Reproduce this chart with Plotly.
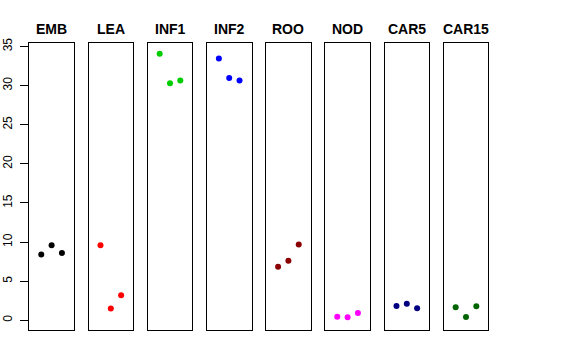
import plotly.graph_objects as go

categories = ["EMB", "LEA", "INF1", "INF2", "ROO", "NOD", "CAR5", "CAR15"]
emb = [8.4, 9.6, 8.6]
lea = [9.6, 1.5, 3.2]
inf1 = [34.05, 30.3, 30.65]
inf2 = [33.45, 30.95, 30.65]
roo = [6.85, 7.6, 9.7]
nod = [0.46, 0.38, 0.93]
car5 = [1.83, 2.12, 1.53]
car15 = [1.66, 0.42, 1.79]
series = [emb, lea, inf1, inf2, roo, nod, car5, car15]
colors = ["#000000", "#FF0000", "#00CD00", "#0000FF", "#8B0000", "#FF00FF", "#000080", "#006400"]
replicate = [1, 2, 3]
yticks = [0, 5, 10, 15, 20, 25, 30, 35]

W, H = 576, 360
left0, pitch, pw = 29.3, 59.2, 44.6
ytop, ybot = 43.3, 330.3

fig = go.Figure()
for i, (cat, vals, col) in enumerate(zip(categories, series, colors)):
    n = "" if i == 0 else str(i + 1)
    fig.add_trace(go.Scatter(x=replicate, y=vals, mode="markers",
                             marker=dict(color=col, size=6),
                             xaxis="x" + n, yaxis="y" + n, showlegend=False,
                             hoverinfo="y"))
    x0 = left0 + i * pitch
    x1 = x0 + pw
    fig.layout["xaxis" + n] = dict(domain=[x0 / W, x1 / W], range=[-0.16, 4.16],
                                   showgrid=False, zeroline=False, showticklabels=False,
                                   ticks="", showline=True, mirror=True, automargin=False,
                                   linecolor="black", linewidth=1,
                                   anchor="y" + n)
    yax = dict(domain=[(H - ybot) / H, (H - ytop) / H], range=[-1.28, 35.4],
               showgrid=False, zeroline=False, showline=True, mirror=True, automargin=False,
               linecolor="black", linewidth=1, anchor="x" + n)
    if i == 0:
        yax.update(tickvals=yticks, ticks="outside", ticklen=8, tickcolor="black",
                   ticklabelstandoff=4,
                   tickangle=-90, tickfont=dict(family="Liberation Sans, Arial", size=12, color="black"))
    else:
        yax.update(showticklabels=False, ticks="")
    fig.layout["yaxis" + n] = yax
    fig.add_annotation(x=(x0 + x1) / 2 / W, y=(H - 29.2) / H, xref="paper", yref="paper",
                       text="<b>" + cat + "</b>", showarrow=False,
                       xanchor="center", yanchor="middle",
                       font=dict(family="Liberation Sans, Arial", size=14, color="black"))

fig.update_layout(width=W, height=H, margin=dict(l=0, r=0, t=0, b=0, pad=0, autoexpand=False),
                  paper_bgcolor="white", plot_bgcolor="white")
fig.write_html("out.html", config={"displayModeBar": False},
               post_script="document.body.style.margin='0';")
